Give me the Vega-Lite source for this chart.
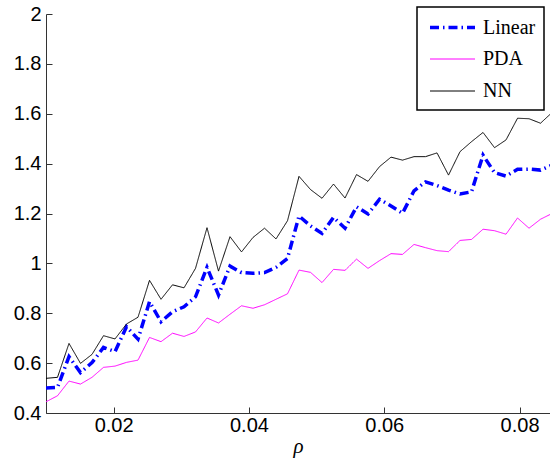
{
  "$schema": "https://vega.github.io/schema/vega-lite/v6.json",
  "width": 504,
  "height": 399,
  "padding": {"left": 46, "top": 14, "right": 0, "bottom": 48},
  "autosize": {"type": "none"},
  "background": "white",
  "config": {
    "view": {"stroke": null},
    "axis": {
      "grid": false,
      "labelFont": "Liberation Sans",
      "labelFontSize": 20,
      "labelColor": "black",
      "domainColor": "#333333",
      "tickColor": "#333333",
      "tickSize": -6,
      "titleFont": "Liberation Serif",
      "titleFontStyle": "italic",
      "titleFontWeight": "normal",
      "titleFontSize": 21,
      "titleColor": "black"
    },
    "legend": {
      "orient": "none",
      "legendX": 371,
      "legendY": -7,
      "strokeColor": "black",
      "strokeWidth": 1.5,
      "fillColor": "white",
      "padding": 8.5,
      "symbolType": "M-1,0H3.5",
      "symbolSize": 400,
      "labelFont": "Liberation Serif",
      "labelFontSize": 20,
      "labelColor": "black",
      "rowPadding": 11,
      "labelOffset": 31,
      "symbolOffset": 2.5
    }
  },
  "data": {
    "values": [
      {"x": 0.0100, "Linear": 0.500, "PDA": 0.445, "NN": 0.539},
      {"x": 0.0117, "Linear": 0.503, "PDA": 0.469, "NN": 0.543},
      {"x": 0.0134, "Linear": 0.626, "PDA": 0.528, "NN": 0.679},
      {"x": 0.0151, "Linear": 0.562, "PDA": 0.516, "NN": 0.599},
      {"x": 0.0168, "Linear": 0.602, "PDA": 0.543, "NN": 0.635},
      {"x": 0.0185, "Linear": 0.663, "PDA": 0.583, "NN": 0.710},
      {"x": 0.0202, "Linear": 0.646, "PDA": 0.588, "NN": 0.697},
      {"x": 0.0219, "Linear": 0.746, "PDA": 0.603, "NN": 0.757},
      {"x": 0.0236, "Linear": 0.696, "PDA": 0.612, "NN": 0.784},
      {"x": 0.0253, "Linear": 0.846, "PDA": 0.703, "NN": 0.932},
      {"x": 0.0270, "Linear": 0.766, "PDA": 0.686, "NN": 0.856},
      {"x": 0.0287, "Linear": 0.806, "PDA": 0.720, "NN": 0.914},
      {"x": 0.0304, "Linear": 0.826, "PDA": 0.707, "NN": 0.902},
      {"x": 0.0321, "Linear": 0.866, "PDA": 0.725, "NN": 0.980},
      {"x": 0.0338, "Linear": 0.984, "PDA": 0.781, "NN": 1.143},
      {"x": 0.0355, "Linear": 0.873, "PDA": 0.761, "NN": 0.969},
      {"x": 0.0372, "Linear": 0.989, "PDA": 0.796, "NN": 1.107},
      {"x": 0.0389, "Linear": 0.963, "PDA": 0.830, "NN": 1.046},
      {"x": 0.0406, "Linear": 0.960, "PDA": 0.820, "NN": 1.104},
      {"x": 0.0423, "Linear": 0.963, "PDA": 0.834, "NN": 1.141},
      {"x": 0.0440, "Linear": 0.984, "PDA": 0.856, "NN": 1.098},
      {"x": 0.0457, "Linear": 1.020, "PDA": 0.878, "NN": 1.171},
      {"x": 0.0474, "Linear": 1.190, "PDA": 0.973, "NN": 1.349},
      {"x": 0.0491, "Linear": 1.150, "PDA": 0.964, "NN": 1.296},
      {"x": 0.0508, "Linear": 1.120, "PDA": 0.923, "NN": 1.261},
      {"x": 0.0525, "Linear": 1.185, "PDA": 0.976, "NN": 1.318},
      {"x": 0.0542, "Linear": 1.141, "PDA": 0.972, "NN": 1.262},
      {"x": 0.0559, "Linear": 1.227, "PDA": 1.017, "NN": 1.356},
      {"x": 0.0576, "Linear": 1.198, "PDA": 0.980, "NN": 1.329},
      {"x": 0.0593, "Linear": 1.257, "PDA": 1.011, "NN": 1.388},
      {"x": 0.0610, "Linear": 1.230, "PDA": 1.039, "NN": 1.426},
      {"x": 0.0627, "Linear": 1.201, "PDA": 1.036, "NN": 1.414},
      {"x": 0.0644, "Linear": 1.291, "PDA": 1.076, "NN": 1.428},
      {"x": 0.0661, "Linear": 1.327, "PDA": 1.063, "NN": 1.428},
      {"x": 0.0678, "Linear": 1.312, "PDA": 1.051, "NN": 1.443},
      {"x": 0.0695, "Linear": 1.294, "PDA": 1.047, "NN": 1.354},
      {"x": 0.0712, "Linear": 1.278, "PDA": 1.092, "NN": 1.448},
      {"x": 0.0729, "Linear": 1.287, "PDA": 1.096, "NN": 1.488},
      {"x": 0.0746, "Linear": 1.434, "PDA": 1.137, "NN": 1.525},
      {"x": 0.0763, "Linear": 1.364, "PDA": 1.131, "NN": 1.464},
      {"x": 0.0780, "Linear": 1.350, "PDA": 1.117, "NN": 1.495},
      {"x": 0.0797, "Linear": 1.377, "PDA": 1.182, "NN": 1.582},
      {"x": 0.0814, "Linear": 1.378, "PDA": 1.141, "NN": 1.580},
      {"x": 0.0831, "Linear": 1.374, "PDA": 1.177, "NN": 1.562},
      {"x": 0.0848, "Linear": 1.394, "PDA": 1.200, "NN": 1.605}
    ]
  },
  "transform": [{"fold": ["Linear", "PDA", "NN"], "as": ["series", "y"]}],
  "mark": {"type": "line", "clip": true},
  "encoding": {
    "x": {
      "field": "x",
      "type": "quantitative",
      "scale": {"domain": [0.01, 0.0845], "nice": false, "zero": false},
      "axis": {"values": [0.02, 0.04, 0.06, 0.08], "format": "~g", "title": "ρ", "labelPadding": 8, "titlePadding": 0}
    },
    "y": {
      "field": "y",
      "type": "quantitative",
      "scale": {"domain": [0.4, 2], "nice": false, "zero": false},
      "axis": {"values": [0.4, 0.6, 0.8, 1, 1.2, 1.4, 1.6, 1.8, 2], "format": "~g", "title": null, "labelPadding": 11}
    },
    "color": {
      "field": "series",
      "type": "nominal",
      "scale": {"domain": ["Linear", "PDA", "NN"], "range": ["#0000ff", "#ff00ff", "#000000"]},
      "legend": {"title": null}
    },
    "strokeDash": {
      "field": "series",
      "type": "nominal",
      "scale": {"domain": ["Linear", "PDA", "NN"], "range": [[9, 4, 1.5, 4], [1, 0], [1, 0]]},
      "legend": {"title": null}
    },
    "strokeWidth": {
      "field": "series",
      "type": "nominal",
      "scale": {"type": "ordinal", "domain": ["Linear", "PDA", "NN"], "range": [3.5, 1, 1]},
      "legend": {"title": null}
    }
  }
}
